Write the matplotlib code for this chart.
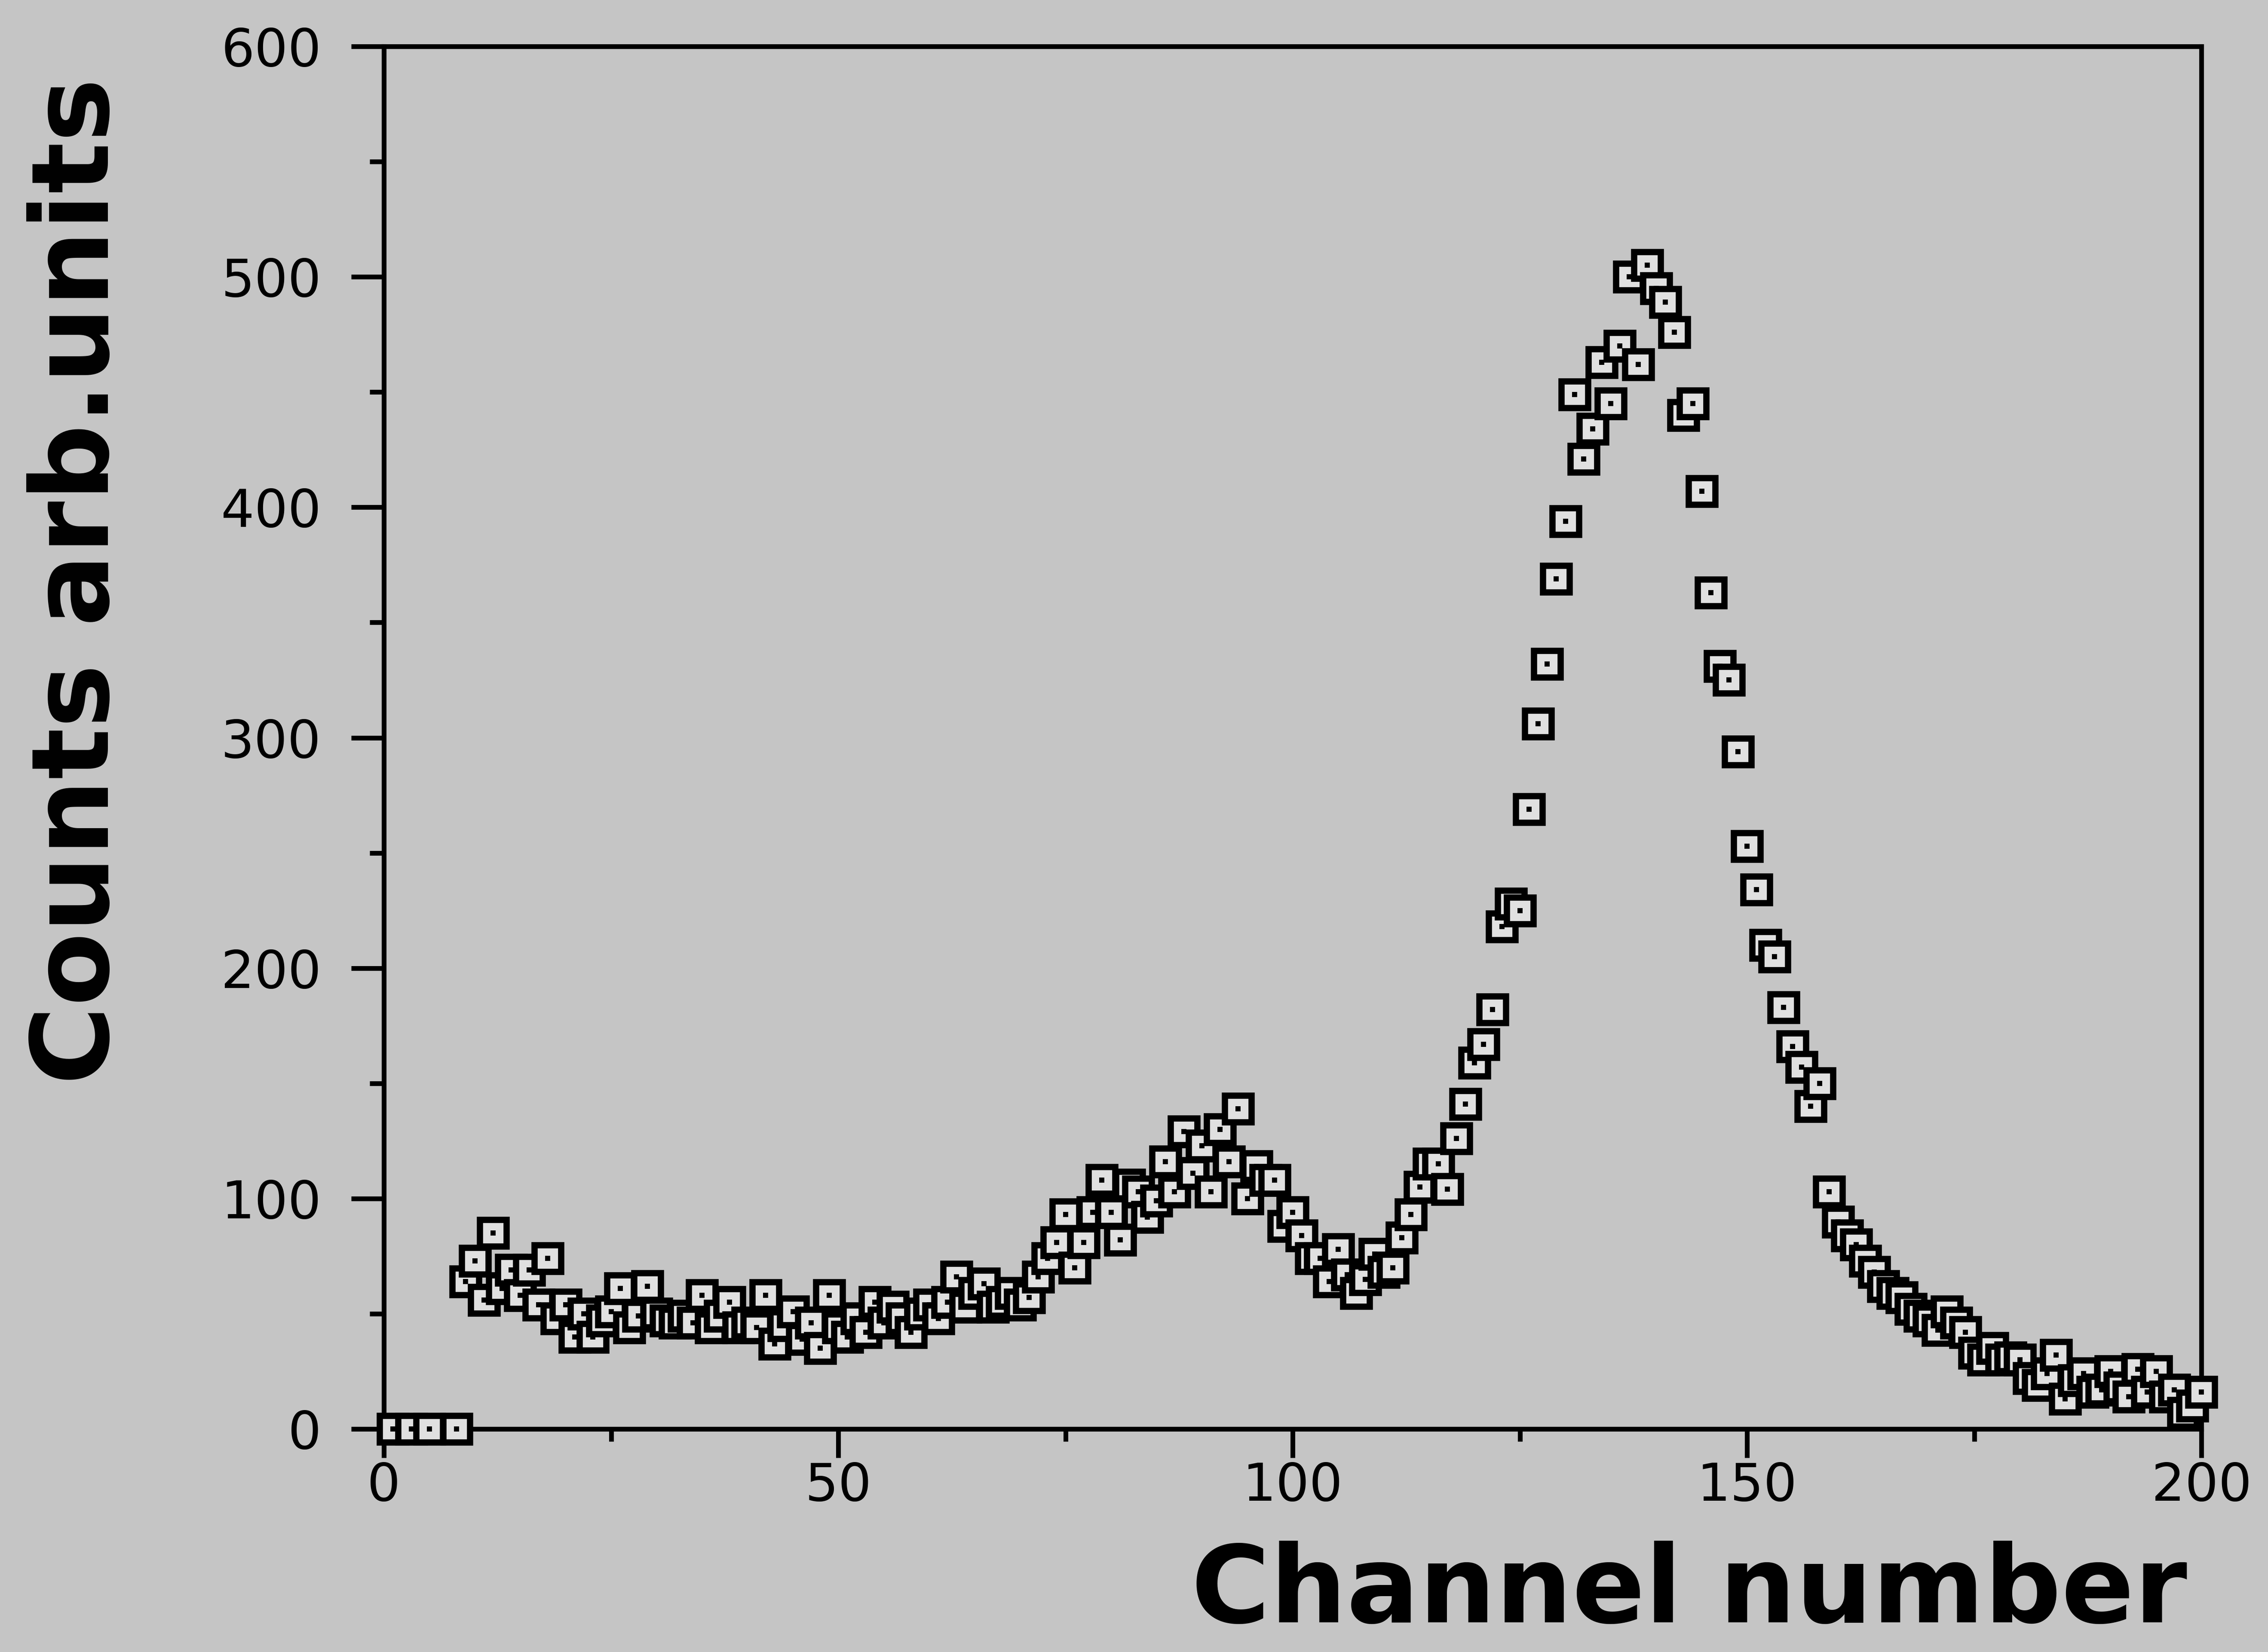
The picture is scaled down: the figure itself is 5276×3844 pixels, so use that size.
import numpy as np
import matplotlib
matplotlib.use("Agg")
import matplotlib.pyplot as plt
from matplotlib.ticker import MultipleLocator

# ---------------- data ----------------
zero_channels = [1, 3, 5, 8]
zero_counts = [0, 0, 0, 0]

first_channel = 9
counts = [
    64, 73, 56, 85, 61, 69, 58, 69, 54, 74, 48, 54,          # 9-20
    40, 50, 40, 47, 51, 61, 44, 49, 62, 50,                  # 21-30
    47, 46, 49, 46, 58, 44, 49, 55, 44, 46,                  # 31-40
    44, 58, 37, 45, 51, 39, 46, 35, 58, 44,                  # 41-50
    40, 48, 42, 55, 46, 53, 48, 42, 50, 54,                  # 51-60
    48, 55, 66, 53, 59, 63, 53, 55, 59, 54,                  # 61-70
    57, 66, 74, 81, 93, 70, 81, 94, 108, 94,                 # 71-80
    82, 106, 103, 92, 99, 116, 103, 129, 111, 123,           # 81-90
    103, 130, 116, 139, 100, 114, 108, 108, 88, 94,          # 91-100
    84, 74, 74, 64, 78, 67, 59, 65, 76, 68,                  # 101-110
    70, 83, 93, 105, 115, 115, 104, 126, 141, 159,           # 111-120
    167, 182, 218, 228, 225, 269, 306, 332, 369, 394,        # 121-130
    449, 421, 434, 463, 445, 470, 500, 462, 505, 495,        # 131-140
    489, 476, 440, 445, 407, 363, 331, 325, 294, 253,        # 141-150
    234, 210, 205, 183, 166, 157, 140, 150, 103, 90,         # 151-160
    84, 80, 73, 68, 62, 59, 57, 52, 49, 47,                  # 161-170
    43, 51, 46, 42, 33, 30, 35, 30, 31, 30,                  # 171-180
    22, 19, 24, 32, 13, 21, 24, 16, 17, 25,                  # 181-190
    18, 14, 26, 16, 25, 14, 17, 7, 10, 16,                   # 191-200
]
channels = list(range(first_channel, first_channel + len(counts)))

x_ticks = [0, 50, 100, 150, 200]
y_ticks = [0, 100, 200, 300, 400, 500, 600]
x_label = "Channel number"
y_label = "Counts arb.units"

# ---------------- style ----------------
BG = "#c5c5c5"
FACE = "#e0e0e0"
W, H, DPI = 5276, 3844, 100

fig = plt.figure(figsize=(W / DPI, H / DPI), dpi=DPI, facecolor=BG)
ax = fig.add_axes([0.1693, 0.135, 0.8014, 0.8369], facecolor=BG)

all_x = zero_channels + channels
all_y = zero_counts + counts
z = 3.0
for xv, yv in zip(all_x, all_y):
    ax.plot([xv], [yv], ls="none", marker="s", ms=44.0, mew=10.5,
            mec="black", mfc=FACE, clip_on=False, zorder=z)
    ax.plot([xv], [yv], ls="none", marker="s", ms=8, mew=0,
            color="black", clip_on=False, zorder=z + 0.0001)
    z += 0.001

ax.set_xlim(0, 200)
ax.set_ylim(0, 600)
ax.set_xticks(x_ticks)
ax.set_yticks(y_ticks)
ax.xaxis.set_minor_locator(MultipleLocator(25))
ax.yaxis.set_minor_locator(MultipleLocator(50))

for sp in ax.spines.values():
    sp.set_linewidth(8)
    sp.set_color("black")
    sp.set_zorder(2.5)

ax.tick_params(axis="x", which="major", direction="out", length=48, width=8,
               pad=6, labelsize=88, colors="black")
ax.tick_params(axis="x", which="minor", direction="out", length=21, width=8)
ax.tick_params(axis="y", which="major", direction="out", length=55, width=8,
               pad=50, labelsize=88, colors="black")
ax.tick_params(axis="y", which="minor", direction="out", length=24, width=8)
for lab in ax.get_xticklabels() + ax.get_yticklabels():
    lab.set_fontfamily("DejaVu Sans")

fig.text(0.9644, 0.018, x_label, ha="right", va="baseline",
         fontsize=180, fontweight="bold", family="DejaVu Sans", color="black")
fig.text(0.0478, 0.3434, y_label, rotation=90, rotation_mode="anchor",
         ha="left", va="baseline", fontsize=180, fontweight="bold",
         family="DejaVu Sans", color="black")

fig.savefig("out.png", dpi=DPI, facecolor=BG)
